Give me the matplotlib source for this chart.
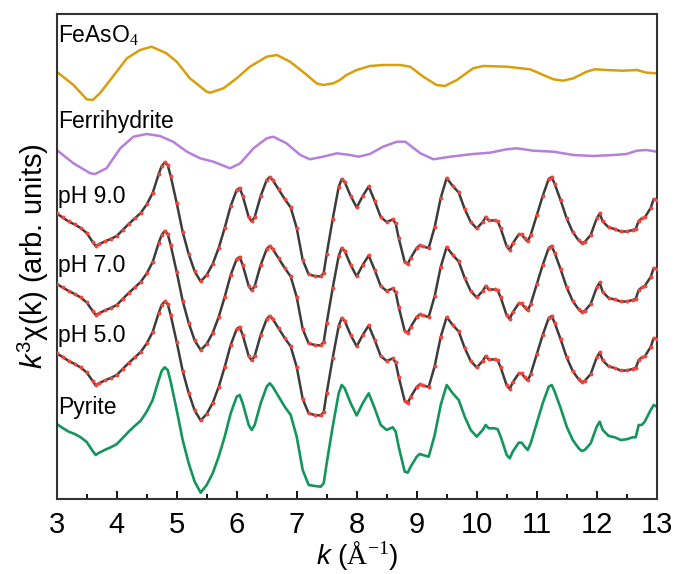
import numpy as np
import matplotlib
matplotlib.use("Agg")
import matplotlib.pyplot as plt

plt.rcParams['font.family'] = ['Liberation Sans', 'DejaVu Sans']
plt.rcParams['mathtext.fontset'] = 'custom'
plt.rcParams['mathtext.rm'] = 'Liberation Serif'
plt.rcParams['mathtext.it'] = 'Liberation Sans:italic'
plt.rcParams['mathtext.sf'] = 'Liberation Sans'

# --- data (k in 1/A, chi in arbitrary units, each spectrum around its own zero) ---
k_feaso4 = [3.0, 3.28, 3.5, 3.6, 3.72, 4.0, 4.17, 4.39, 4.58, 4.83, 5.0, 5.22, 5.5,
            5.56, 5.78, 6.0, 6.22, 6.5, 6.67, 6.89, 7.17, 7.33, 7.44, 7.61, 7.72, 7.83,
            8.0, 8.22, 8.44, 8.72, 8.89, 9.11, 9.33, 9.47, 9.67, 9.94, 10.11, 10.5,
            10.89, 11.11, 11.28, 11.44, 11.61, 11.83, 11.97, 12.17, 12.44, 12.67, 12.83, 13.0]
chi_feaso4 = [0.03, -1.3, -2.73, -2.8, -2.13, 0.03, 1.37, 2.2, 2.53, 1.87, 1.03, -0.63, -1.97,
              -2.07, -1.63, -0.63, 0.53, 1.53, 1.7, 1.03, -0.3, -1.13, -1.3, -1.13, -0.8, -0.3,
              0.2, 0.6, 0.7, 0.7, 0.53, -0.47, -1.3, -1.4, -0.8, 0.37, 0.6, 0.53,
              0.27, -0.3, -0.73, -0.87, -0.63, 0.03, 0.27, 0.2, 0.13, 0.2, -0.07, -0.13]

k_ferri = [3.0, 3.28, 3.56, 3.64, 3.83, 4.06, 4.28, 4.5, 4.72, 4.94, 5.17, 5.39, 5.61,
           5.89, 6.06, 6.28, 6.5, 6.61, 6.83, 7.06, 7.22, 7.44, 7.67, 7.89, 8.03, 8.22,
           8.44, 8.67, 8.81, 9.06, 9.28, 9.56, 9.94, 10.22, 10.5, 10.67, 10.94, 11.28,
           11.61, 11.94, 12.28, 12.5, 12.67, 12.83, 13.0]
chi_ferri = [0.2, -1.13, -2.13, -2.2, -1.63, 0.37, 1.53, 1.8, 1.6, 1.03, 0.03, -0.63, -0.97,
             -1.63, -1.13, 0.37, 1.37, 1.53, 0.87, -0.3, -0.73, -0.47, -0.13, -0.3, -0.47, -0.2,
             0.53, 1.03, 1.03, -0.13, -0.73, -0.47, -0.2, -0.07, 0.27, 0.37, 0.13, 0.03,
             -0.3, -0.4, -0.3, -0.2, 0.13, 0.2, 0.03]

k_s = [3.0, 3.1, 3.2, 3.3, 3.4, 3.5, 3.6, 3.65, 3.7, 3.8, 3.9, 4.0, 4.1, 4.2, 4.3, 4.4,
       4.5, 4.6, 4.7, 4.75, 4.8, 4.85, 4.9, 5.0, 5.1, 5.2, 5.3, 5.4, 5.5, 5.6, 5.7, 5.8,
       5.9, 6.0, 6.05, 6.1, 6.2, 6.25, 6.3, 6.4, 6.5, 6.55, 6.6, 6.7, 6.8, 6.9, 7.0, 7.1,
       7.2, 7.3, 7.4, 7.45, 7.5, 7.6, 7.7, 7.75, 7.8, 7.9, 8.0, 8.1, 8.2, 8.3, 8.4, 8.5,
       8.6, 8.65, 8.7, 8.8, 8.85, 8.9, 9.0, 9.05, 9.1, 9.2, 9.3, 9.4, 9.5, 9.6, 9.7, 9.8,
       9.9, 10.0, 10.1, 10.15, 10.2, 10.3, 10.35, 10.4, 10.5, 10.55, 10.6, 10.7, 10.75,
       10.8, 10.85, 10.9, 11.0, 11.1, 11.2, 11.25, 11.3, 11.4, 11.5, 11.6, 11.7, 11.75,
       11.8, 11.9, 12.0, 12.05, 12.1, 12.2, 12.3, 12.4, 12.5, 12.6, 12.65, 12.7, 12.75,
       12.8, 12.9, 12.95, 13.0]

chi_pyrite = [0.6, 0.2, -0.17, -0.4, -0.73, -1.2, -2.1, -2.5, -2.3, -2.0, -1.73, -1.43, -0.8, -0.17, 0.4, 0.93,
              1.83, 3.0, 5.0, 5.9, 6.27, 6.0, 4.83, 2.0, -1.0, -3.33, -5.17, -6.27, -5.5, -4.33, -2.67, -0.67,
              1.67, 3.33, 3.5, 2.67, 0.5, 0.0, 0.5, 2.67, 4.33, 4.67, 4.33, 3.33, 2.33, 1.5, -0.67, -4.0,
              -5.5, -5.6, -5.67, -5.33, -3.33, 0.33, 3.67, 4.5, 4.17, 2.67, 1.45, 2.67, 3.67, 2.17, 0.5, 0.0,
              0.27, -0.17, -1.67, -4.17, -4.27, -3.67, -2.67, -2.4, -2.5, -2.67, -0.5, 2.5, 4.5, 3.67, 3.0, 1.33,
              0.0, -0.67, 0.0, 0.5, 0.17, 0.17, 0.07, -0.67, -2.5, -2.83, -2.17, -1.27, -1.27,
              -1.67, -2.0, -1.33, 0.67, 2.67, 4.33, 4.5, 3.83, 2.17, 0.33, -1.0, -1.83, -2.1,
              -2.0, -1.33, 0.33, 0.83, 0.0, -0.6, -0.73, -1.0, -0.93, -0.73, -0.73, 0.5, 0.5,
              0.83, 2.0, 2.5, 2.33]

chi_ph9 = [0.85, 0.45, 0.05, -0.25, -0.6, -1.1, -2.0, -2.4, -2.25, -1.95, -1.7, -1.4, -0.8, -0.2, 0.35, 0.9,
           1.75, 2.9, 4.8, 5.6, 5.95, 5.7, 4.6, 1.9, -1.0, -3.2, -4.95, -5.95, -5.3, -4.2, -2.6, -0.6,
           1.6, 3.2, 3.4, 2.6, 0.5, 0.05, 0.5, 2.6, 4.2, 4.5, 4.2, 3.25, 2.3, 1.45, -0.6, -3.8,
           -5.25, -5.4, -5.45, -5.1, -3.2, 0.3, 3.5, 4.3, 4.0, 2.6, 1.45, 2.6, 3.55, 2.1, 0.5, 0.0,
           0.25, -0.15, -1.6, -4.0, -4.2, -3.6, -2.6, -2.35, -2.45, -2.6, -0.5, 2.4, 4.4, 3.6, 2.95, 1.3,
           0.0, -0.65, 0.0, 0.5, 0.15, 0.15, 0.05, -0.65, -2.45, -2.8, -2.15, -1.25, -1.25,
           -1.65, -1.95, -1.3, 0.65, 2.6, 4.3, 4.5, 3.8, 2.15, 0.35, -1.0, -1.85, -2.1,
           -2.0, -1.3, 0.35, 0.85, 0.05, -0.55, -0.7, -0.95, -0.95, -0.8, -0.7, 0.1, 0.35,
           0.45, 1.4, 2.3, 2.2]

chi_ph7 = [0.7, 0.35, 0.0, -0.3, -0.65, -1.15, -2.0, -2.4, -2.25, -1.95, -1.7, -1.4, -0.8, -0.2, 0.35, 0.9,
           1.75, 2.9, 4.8, 5.6, 6.0, 5.7, 4.6, 1.9, -1.0, -3.2, -4.95, -5.9, -5.3, -4.2, -2.6, -0.6,
           1.6, 3.2, 3.4, 2.6, 0.5, 0.05, 0.5, 2.6, 4.2, 4.5, 4.2, 3.25, 2.3, 1.45, -0.6, -3.8,
           -5.25, -5.4, -5.45, -5.1, -3.2, 0.3, 3.5, 4.3, 4.0, 2.6, 1.45, 2.6, 3.55, 2.1, 0.5, 0.0,
           0.25, -0.15, -1.6, -4.0, -4.2, -3.6, -2.6, -2.35, -2.45, -2.6, -0.5, 2.4, 4.4, 3.6, 2.95, 1.3,
           0.0, -0.65, 0.0, 0.5, 0.15, 0.15, 0.05, -0.65, -2.45, -2.8, -2.15, -1.25, -1.25,
           -1.65, -1.95, -1.3, 0.65, 2.6, 4.3, 4.5, 3.8, 2.15, 0.35, -1.0, -1.85, -2.1,
           -2.0, -1.3, 0.35, 0.85, -0.1, -0.7, -0.85, -1.05, -1.05, -0.9, -0.8, 0.1, 0.35,
           0.5, 1.4, 2.3, 2.2]

chi_ph5 = [0.75, 0.4, 0.0, -0.3, -0.65, -1.15, -2.0, -2.45, -2.25, -1.95, -1.7, -1.4, -0.8, -0.2, 0.35, 0.9,
           1.75, 2.9, 4.8, 5.6, 5.95, 5.7, 4.6, 1.9, -1.0, -3.2, -4.95, -5.95, -5.3, -4.2, -2.6, -0.6,
           1.6, 3.2, 3.4, 2.6, 0.5, 0.05, 0.5, 2.6, 4.2, 4.5, 4.2, 3.25, 2.3, 1.45, -0.6, -3.8,
           -5.25, -5.4, -5.45, -5.1, -3.2, 0.3, 3.5, 4.3, 4.0, 2.6, 1.45, 2.6, 3.55, 2.1, 0.5, 0.0,
           0.25, -0.15, -1.6, -4.0, -4.2, -3.6, -2.6, -2.35, -2.45, -2.6, -0.5, 2.4, 4.4, 3.6, 2.95, 1.3,
           0.0, -0.65, 0.0, 0.5, 0.15, 0.15, 0.05, -0.65, -2.45, -2.8, -2.15, -1.25, -1.25,
           -1.65, -1.95, -1.3, 0.65, 2.6, 4.3, 4.5, 3.8, 2.15, 0.35, -1.0, -1.85, -2.1,
           -2.0, -1.3, 0.35, 0.85, 0.05, -0.55, -0.7, -0.95, -0.95, -0.8, -0.7, 0.1, 0.35,
           0.45, 1.4, 2.3, 2.2]

labels = ["FeAsO$_4$", "Ferrihydrite", "pH 9.0", "pH 7.0", "pH 5.0", "Pyrite"]

# vertical offsets used to stack the spectra
offsets = {"feaso4": 35.8, "ferri": 27.8, "ph9": 20.8, "ph7": 13.9, "ph5": 6.9, "pyrite": 0.0}
label_y = [38.8, 30.2, 22.7, 15.8, 8.8, 1.6]

fig = plt.figure(figsize=(6.78, 5.74), dpi=100)
ax = fig.add_axes([0.0836, 0.1307, 0.8850, 0.8449])

ax.plot(k_feaso4, np.array(chi_feaso4) + offsets["feaso4"], color='#d99e0b', lw=1.8)
ax.plot(k_ferri, np.array(chi_ferri) + offsets["ferri"], color='#b67fd9', lw=1.8)
for name, chi in [("ph9", chi_ph9), ("ph7", chi_ph7), ("ph5", chi_ph5)]:
    y = np.array(chi) + offsets[name]
    ax.plot(k_s, y, color='#3c3c3c', lw=1.8, zorder=2)
    ax.plot(k_s, y, 'o', color='#f0463c', ms=2.8, mew=0, zorder=3)
ax.plot(k_s, np.array(chi_pyrite) + offsets["pyrite"], color='#13955b', lw=1.9)

for txt, yy in zip(labels, label_y):
    ax.text(3.03, yy, txt, fontsize=16.5, va='baseline', ha='left')

ax.set_xlim(3, 13)
ax.set_ylim(-6.9, 41.6)
ax.set_xticks(range(3, 14))
ax.set_xticks(np.arange(3.5, 13, 1.0), minor=True)
ax.set_yticks([])
ax.tick_params(axis='x', which='major', direction='in', length=6, width=1.3,
               labelsize=21, pad=9)
ax.tick_params(axis='x', which='minor', direction='in', length=3.5, width=1.3)
for sp in ax.spines.values():
    sp.set_linewidth(1.5)
    sp.set_color('#333333')

ax.set_xlabel(r"$\mathit{k}$ ($\mathrm{\AA}^{-1}$)", fontsize=20, labelpad=0)
ax.set_ylabel(r"$\mathit{k}^{\mathsf{3}}$χ(k) (arb. units)", fontsize=21, labelpad=4)

fig.savefig("out.png", dpi=100)
